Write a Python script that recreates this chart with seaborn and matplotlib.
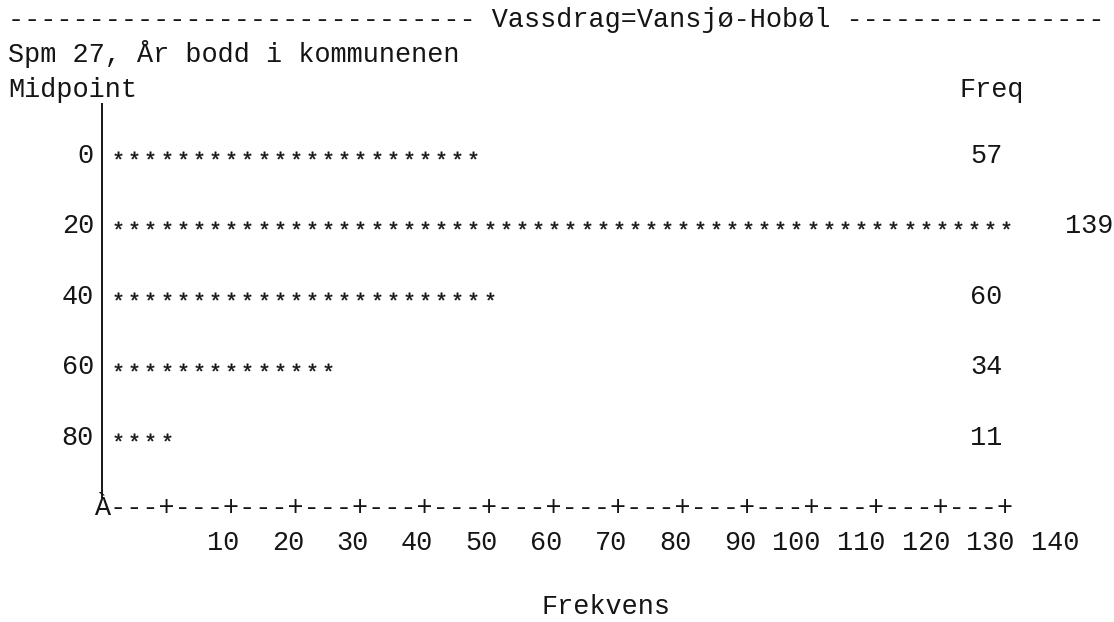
import matplotlib
matplotlib.use("Agg")
import numpy as np
import pandas as pd
import matplotlib.pyplot as plt
import seaborn as sns
from matplotlib.textpath import TextPath
from matplotlib.font_manager import FontProperties
from matplotlib.path import Path
from matplotlib.markers import MarkerStyle

# ---- data -------------------------------------------------------------
midpoints = [0, 20, 40, 60, 80]
frequencies = [57, 139, 60, 34, 11]
tick_values = [10, 20, 30, 40, 50, 60, 70, 80, 90, 100, 110, 120, 130, 140]
by_line = "Vassdrag=Vansjø-Hobøl"
question = "Spm 27, År bodd i kommunenen"
x_title = "Frekvens"
star_unit = 2.5          # one asterisk per 2.5 observations

# ---- layout (character-cell chart) ----------------------------------
W, H = 1114, 622
PX_X, X0 = 6.46, 102.0    # pixels per frequency unit, pixel of freq 0
PX_Y, Y0 = 3.525, 155.0   # pixels per midpoint unit, pixel of first row
CELL = star_unit * PX_X   # width of one character cell in pixels
FS = CELL / 0.6 * 72 / 100  # monospace font size giving that cell width
INK = "#151515"

sns.set_theme(style="white")
plt.rcParams["font.family"] = ["Liberation Mono", "DejaVu Sans Mono"]


def xd(px):
    return (px - X0) / PX_X


def yd(px):
    return (px - Y0) / PX_Y


fig = plt.figure(figsize=(W / 100, H / 100), dpi=100)
fig.patch.set_facecolor("white")
ax = fig.add_axes([0, 0, 1, 1])
ax.set_xlim(xd(0), xd(W))
ax.set_ylim(yd(H), yd(0))
ax.axis("off")

# asterisk glyph used as the bar marker, centred on its own ink
fp = FontProperties(family="Liberation Mono")
tp = TextPath((0, 0), "*", prop=fp, size=10)
verts = tp.vertices.copy()
codes = tp.codes.copy()
start = 0
for k, c in enumerate(codes):
    if c == Path.MOVETO:
        start = k
    elif c == Path.CLOSEPOLY:
        verts[k] = verts[start]
verts -= (verts.min(axis=0) + verts.max(axis=0)) / 2
star = MarkerStyle(Path(verts, codes))

rows = []
for m, f in zip(midpoints, frequencies):
    n = int(round(f / star_unit))
    for i in range(1, n + 1):
        rows.append({"freq": i * star_unit, "midpoint": m})
stars = pd.DataFrame(rows)

sns.scatterplot(data=stars, x="freq", y="midpoint", marker=star, s=30,
                color=INK, edgecolor=INK, linewidth=0.3, ax=ax,
                legend=False)

txt = dict(fontsize=FS, color=INK, va="baseline")
base_off = 8.0 / PX_Y     # baseline sits this far below the row centre

# header lines
ax.text(xd(8), yd(27), "-" * 29 + " " + by_line + " " + "-" * 16,
        ha="left", **txt)
ax.text(xd(8), yd(62), question, ha="left", **txt)
ax.text(xd(8), yd(97), "Midpoint", ha="left", **txt)
ax.text(xd(960), yd(97), "Freq", ha="left", **txt)

# vertical axis
ax.plot([0, 0], [yd(103), yd(498)], color=INK, lw=1.4,
        solid_capstyle="butt")
for m in midpoints:
    ax.text(-star_unit / 2, m + base_off, str(m), ha="right", **txt)

# frequency labels
for m, f in zip(midpoints, frequencies):
    n = int(round(f / star_unit))
    xpos = max(xd(970), n * star_unit + 9.0)
    ax.text(xpos, m + base_off, str(f), ha="left", **txt)

# horizontal axis drawn as character row
ax.text(-star_unit / 2, yd(515), "À" + "---+" * len(tick_values),
        ha="left", **txt)
for t in tick_values:
    ax.text(t + 4 * star_unit + star_unit / 2, yd(550), str(t),
            ha="right", **txt)
ax.text(xd(541), yd(614), x_title, ha="left", **txt)

fig.savefig("out.png", dpi=100, facecolor="white")
